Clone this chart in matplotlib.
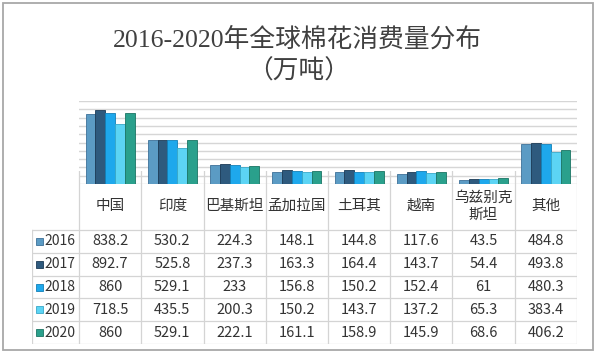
import matplotlib
matplotlib.use("Agg")
from matplotlib import pyplot as plt
from matplotlib.patches import Rectangle
import numpy as np

plt.rcParams['font.family'] = ['Noto Sans CJK SC', 'DejaVu Sans']

countries = ["中国", "印度", "巴基斯坦", "孟加拉国", "土耳其", "越南", "乌兹别克\n斯坦", "其他"]
years = ["2016", "2017", "2018", "2019", "2020"]
v2016 = [838.2, 530.2, 224.3, 148.1, 144.8, 117.6, 43.5, 484.8]
v2017 = [892.7, 525.8, 237.3, 163.3, 164.4, 143.7, 54.4, 493.8]
v2018 = [860, 529.1, 233, 156.8, 150.2, 152.4, 61, 480.3]
v2019 = [718.5, 435.5, 200.3, 150.2, 143.7, 137.2, 65.3, 383.4]
v2020 = [860, 529.1, 222.1, 161.1, 158.9, 145.9, 68.6, 406.2]
series = [v2016, v2017, v2018, v2019, v2020]
colors = ["#5b9bc4", "#2e5a7e", "#1ea8ec", "#5cd4f4", "#2aa08c"]
edges = ["#3d7199", "#1c3b57", "#1280b8", "#38a8c8", "#1b7564"]

W, H = 600, 355
fig = plt.figure(figsize=(6, 3.55), dpi=100)
fig.patch.set_facecolor("white")

# outer frame
fig.add_artist(Rectangle((3 / W, 5 / H), 590 / W, 347 / H, transform=fig.transFigure,
                         fill=False, edgecolor="#a8a8a8", linewidth=1.3))

title_font = ["Liberation Serif", "Noto Sans CJK SC"]
fig.text(297 / W, 1 - 39 / H, "2016-2020年全球棉花消费量分布", ha="center", va="center",
         fontsize=18.5, color="#404040", family=title_font)
fig.text(299 / W, 1 - 71 / H, "（万吨）", ha="center", va="center",
         fontsize=18.5, color="#404040", family=title_font)

# bar area
x0, x1 = 79, 577
ax = fig.add_axes([x0 / W, (H - 184) / H, (x1 - x0) / W, 83 / H])
x = np.arange(len(countries))
bw = 0.157
for k, vals in enumerate(series):
    ax.bar(x + (k - 2) * bw, vals, width=bw, color=colors[k], edgecolor=edges[k],
           linewidth=0.6, zorder=3)
ax.set_xlim(-0.5, len(countries) - 0.5)
ax.set_ylim(0, 1000)
ax.set_yticks(np.arange(0, 1001, 100))
ax.yaxis.grid(True, color="#d6d6d6", linewidth=1.0)
ax.set_axisbelow(True)
ax.tick_params(left=False, bottom=False, labelleft=False, labelbottom=False)
for s in ax.spines.values():
    s.set_visible(False)
ax.set_facecolor("none")

# table
tl = 32
ncol = len(countries)
cw = (x1 - x0) / ncol
tax = fig.add_axes([tl / W, 11 / H, (x1 - tl) / W, 173 / H])
lab_w = (x0 - tl) / cw
tax.set_xlim(-0.5 - lab_w, ncol - 0.5)
tax.set_ylim(0, 173)
tax.axis("off")
row_h = 22.8
hdr_top, hdr_bot = 173, 114
grid_c = "#d4d4d4"
for i in range(ncol + 1):
    tax.plot([i - 0.5, i - 0.5], [0, hdr_top], color=grid_c, linewidth=0.9)
tax.plot([-0.5 - lab_w, -0.5 - lab_w], [0, hdr_bot], color=grid_c, linewidth=0.9)
for r in range(len(years) + 1):
    yy = hdr_bot - r * row_h
    tax.plot([-0.5 - lab_w, ncol - 0.5], [yy, yy], color=grid_c, linewidth=0.9)

for i, c in enumerate(countries):
    tax.text(i, 138, c, ha="center", va="center", fontsize=10.5,
             color="#333333", linespacing=1.25)

for r, yr in enumerate(years):
    yc = hdr_bot - (r + 0.5) * row_h
    sx = -0.5 - lab_w + 0.07
    tax.add_patch(Rectangle((sx, yc - 3.5), 0.11, 7, facecolor=colors[r],
                            edgecolor=edges[r], linewidth=0.6))
    tax.text(sx + 0.13, yc, yr, ha="left", va="center", fontsize=10, color="#333333")
    for i, v in enumerate(series[r]):
        tax.text(i, yc, f"{v:g}", ha="center", va="center", fontsize=10.5, color="#333333")

fig.savefig("out.png", dpi=100)
